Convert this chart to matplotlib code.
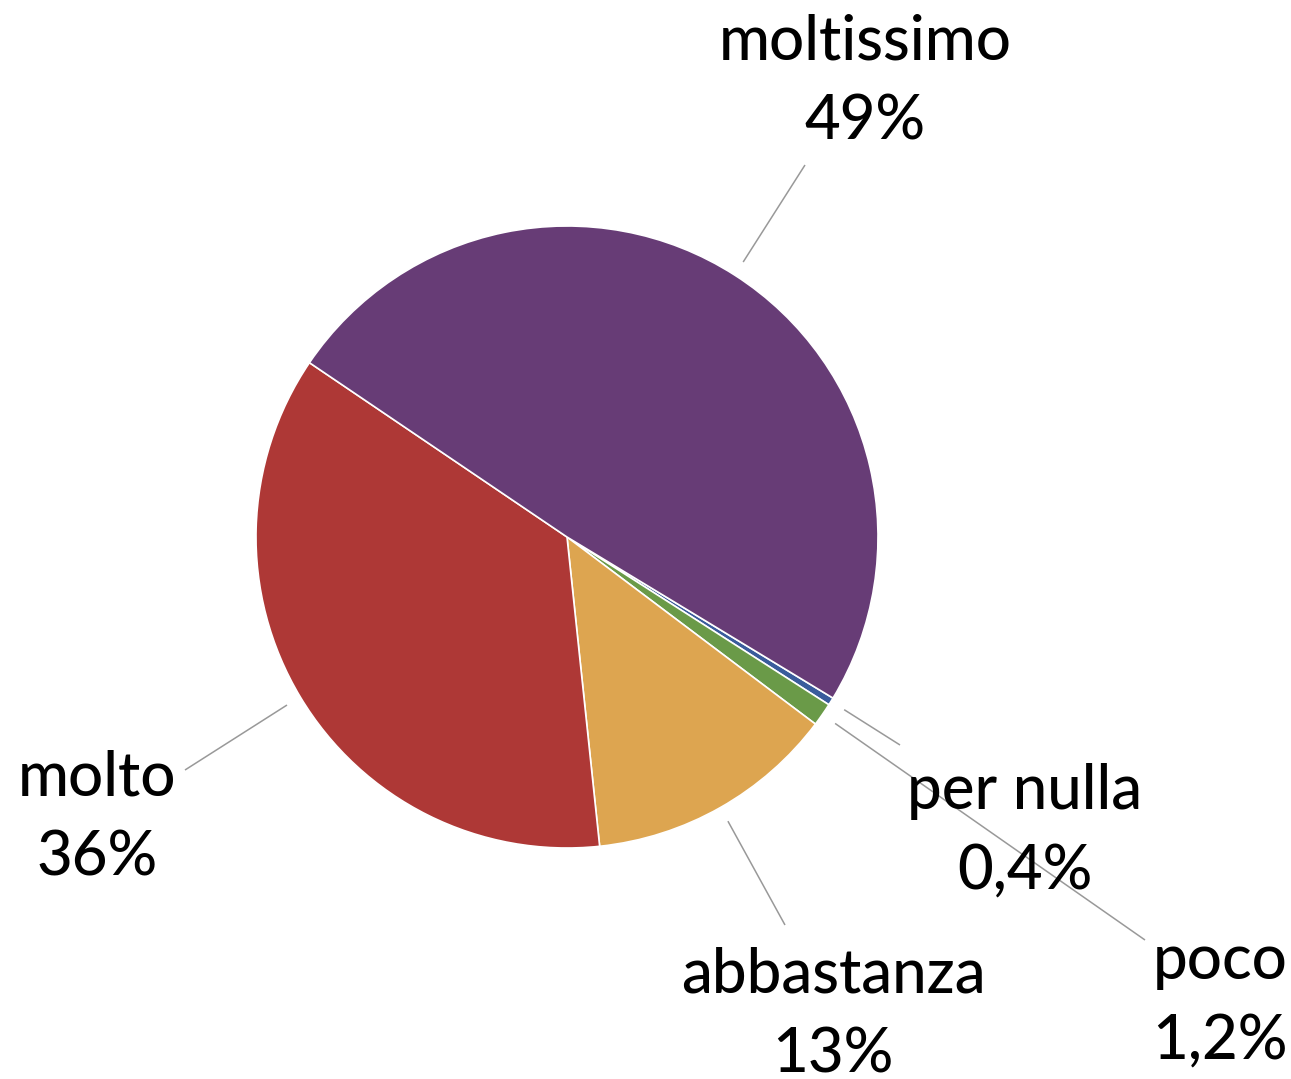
import numpy as np
import matplotlib
matplotlib.use("Agg")
import matplotlib.pyplot as plt

categories = ["per nulla", "poco", "abbastanza", "molto", "moltissimo"]
values = [0.4, 1.2, 13, 36, 49]
value_labels = ["0,4%", "1,2%", "13%", "36%", "49%"]
colors = ["#3A5C9C", "#6A9A48", "#DDA550", "#AE3836", "#673C76"]

W, H = 1291, 1079
fig = plt.figure(figsize=(W / 100, H / 100), dpi=100)
ax = fig.add_axes([0, 0, 1, 1])

cx, cy, R = 567, H - 537, 311
start = -31.2
wedges, _ = ax.pie(values, colors=colors, startangle=start, counterclock=False,
                   center=(cx, cy), radius=R,
                   wedgeprops=dict(edgecolor="white", linewidth=1.2))
ax.set_xlim(0, W)
ax.set_ylim(0, H)
ax.set_aspect("equal")
ax.axis("off")

# label layout (pixel coords, y from top): name centre, leader end
label_pos = {
    "per nulla": ((1025, 792), (900, 745)),
    "poco": ((1220, 962), (1145, 940)),
    "abbastanza": ((833, 975), (785, 925)),
    "molto": ((97, 778), (185, 770)),
    "moltissimo": ((865, 42), (805, 165)),
}

font = "Lato"
fs = 44.5
for w, name, vl in zip(wedges, categories, value_labels):
    mid = np.deg2rad((w.theta1 + w.theta2) / 2)
    sx = cx + 1.05 * R * np.cos(mid)
    sy = cy + 1.05 * R * np.sin(mid)
    (tx, ty), (ex, ey) = label_pos[name]
    ax.plot([sx, ex], [sy, H - ey], color="#999999", lw=1.1, solid_capstyle="butt", zorder=1)
    ax.text(tx, H - ty, name, ha="center", va="center", fontsize=fs, family=font,
            fontweight="medium", color="black")
    ax.text(tx, H - ty - 80, vl, ha="center", va="center", fontsize=fs, family=font,
            fontweight="medium", color="black")

fig.savefig("out.png", dpi=100, facecolor="white")
